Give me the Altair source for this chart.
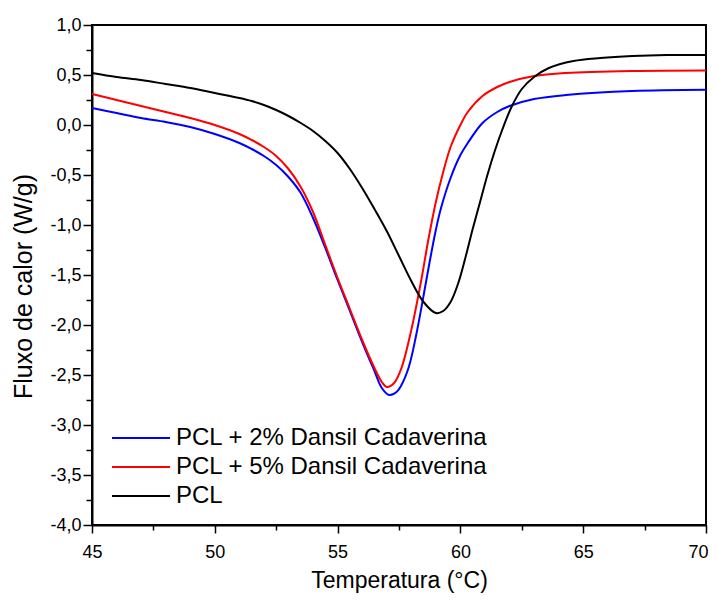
import altair as alt
import pandas as pd

# Temperature (°C) and heat flow (W/g)
t_blue = [45.0, 46.0, 47.0, 48.0, 49.0, 50.0, 51.0, 51.5, 52.0, 52.5, 53.0, 53.5, 54.0, 54.5,
          55.0, 55.5, 56.0, 56.5, 56.8, 57.1, 57.4, 57.6, 57.9, 58.2, 58.6, 58.8, 59.0, 59.2,
          59.6, 60.0, 60.3, 60.9, 61.5, 62.0, 63.0, 64.3, 67.0, 70.0]
y_blue = [0.17, 0.12, 0.07, 0.03, -0.02, -0.09, -0.18, -0.24, -0.31, -0.40, -0.52, -0.68, -0.93, -1.23,
          -1.55, -1.86, -2.17, -2.46, -2.63, -2.70, -2.67, -2.60, -2.42, -2.10, -1.57, -1.30, -1.05, -0.84,
          -0.53, -0.30, -0.18, 0.02, 0.13, 0.19, 0.26, 0.30, 0.34, 0.353]

t_red = [45.0, 46.0, 47.0, 48.0, 49.0, 50.0, 51.0, 51.5, 52.0, 52.5, 53.0, 53.5, 54.0, 54.5,
         55.0, 55.5, 56.0, 56.5, 56.8, 57.0, 57.3, 57.6, 58.0, 58.4, 58.7, 59.0, 59.3, 59.6,
         60.0, 60.3, 60.9, 61.5, 62.0, 63.0, 64.3, 67.0, 70.0]
y_red = [0.31, 0.25, 0.19, 0.13, 0.07, 0.00, -0.09, -0.15, -0.22, -0.31, -0.44, -0.62, -0.87, -1.20,
         -1.53, -1.84, -2.15, -2.43, -2.57, -2.62, -2.58, -2.43, -2.05, -1.56, -1.14, -0.77, -0.47, -0.22,
         0.00, 0.13, 0.29, 0.38, 0.43, 0.49, 0.52, 0.54, 0.545]

t_black = [45.0, 46.0, 47.0, 48.0, 49.0, 50.0, 51.0, 51.5, 52.0, 52.5, 53.0, 53.5, 54.0, 54.5,
           55.0, 55.5, 56.0, 56.5, 57.0, 57.5, 58.0, 58.5, 59.0, 59.3, 59.6, 59.9, 60.2, 60.5,
           60.8, 61.1, 61.4, 61.7, 62.1, 62.5, 63.0, 63.6, 64.6, 65.7, 67.0, 68.4, 70.0]
y_black = [0.52, 0.48, 0.45, 0.41, 0.37, 0.32, 0.27, 0.24, 0.20, 0.15, 0.09, 0.02, -0.06, -0.16,
           -0.28, -0.44, -0.63, -0.84, -1.06, -1.31, -1.56, -1.77, -1.88, -1.86, -1.77, -1.59, -1.33, -1.04,
           -0.77, -0.50, -0.26, -0.05, 0.19, 0.36, 0.48, 0.57, 0.64, 0.67, 0.69, 0.70, 0.70]

series_names = ["PCL + 2% Dansil Cadaverina", "PCL + 5% Dansil Cadaverina", "PCL"]
series_colors = ["#0000FF", "#FF0000", "#000000"]

x_ticks = [45 + 2.5 * i for i in range(11)]
y_ticks = [-4.0 + 0.25 * i for i in range(21)]

rows = []
for name, ts, ys in zip(series_names, [t_blue, t_red, t_black], [y_blue, y_red, y_black]):
    for t, v in zip(ts, ys):
        rows.append({"serie": name, "T": t, "Q": v})
df = pd.DataFrame(rows)

FONT = "Liberation Sans"

chart = alt.Chart(df).mark_line(interpolate="catmull-rom", strokeWidth=2).encode(
    x=alt.X("T:Q",
            scale=alt.Scale(domain=[45, 70], nice=False, zero=False),
            axis=alt.Axis(title="Temperatura (°C)", values=x_ticks, grid=False,
                          labelExpr="datum.value % 5 === 0 ? format(datum.value, 'd') : ''",
                          tickSize={"condition": {"test": "datum.value % 5 === 0", "value": 8}, "value": 5},
                          labelOffset={"condition": {"test": "datum.value === 70", "value": -8}, "value": 0},
                          labelOverlap=False, labelFlush=False, labelPadding=10,
                          titleFontSize=23, titlePadding=8)),
    y=alt.Y("Q:Q",
            scale=alt.Scale(domain=[-4.0, 1.0], nice=False, zero=False),
            axis=alt.Axis(title="Fluxo de calor (W/g)", values=y_ticks, grid=False,
                          labelExpr="datum.value % 0.5 === 0 ? replace(replace(format(datum.value, '.1f'), '.', ','), '−', '-') : ''",
                          tickSize={"condition": {"test": "datum.value % 0.5 === 0", "value": 9}, "value": 6},
                          labelOverlap=False, labelFlush=False, labelPadding=2,
                          titleFontSize=25, titlePadding=13, titleY=261)),
    color=alt.Color("serie:N",
                    scale=alt.Scale(domain=series_names, range=series_colors),
                    legend=alt.Legend(title=None, orient="none", legendX=37, legendY=401,
                                      symbolType="M-2.9,0H2.9", symbolSize=400, symbolStrokeWidth=2,
                                      labelFontSize=24, labelFont=FONT, labelColor="black",
                                      labelLimit=0, rowPadding=5, padding=0, labelOffset=23)),
    order=alt.Order("T:Q"),
).properties(
    width=614, height=500,
    autosize=alt.AutoSizeParams(type="none"),
    padding={"left": 84, "top": 17, "right": 4, "bottom": 68},
).configure_view(
    stroke="black", strokeWidth=2
).configure_axis(
    labelFont=FONT, titleFont=FONT, labelFontSize=18,
    titleFontWeight="normal", labelColor="black", titleColor="black",
    domainColor="black", domainWidth=2, tickColor="black", tickWidth=1.5,
)

chart.save("out.html", embed_options={"renderer": "svg", "actions": False})
